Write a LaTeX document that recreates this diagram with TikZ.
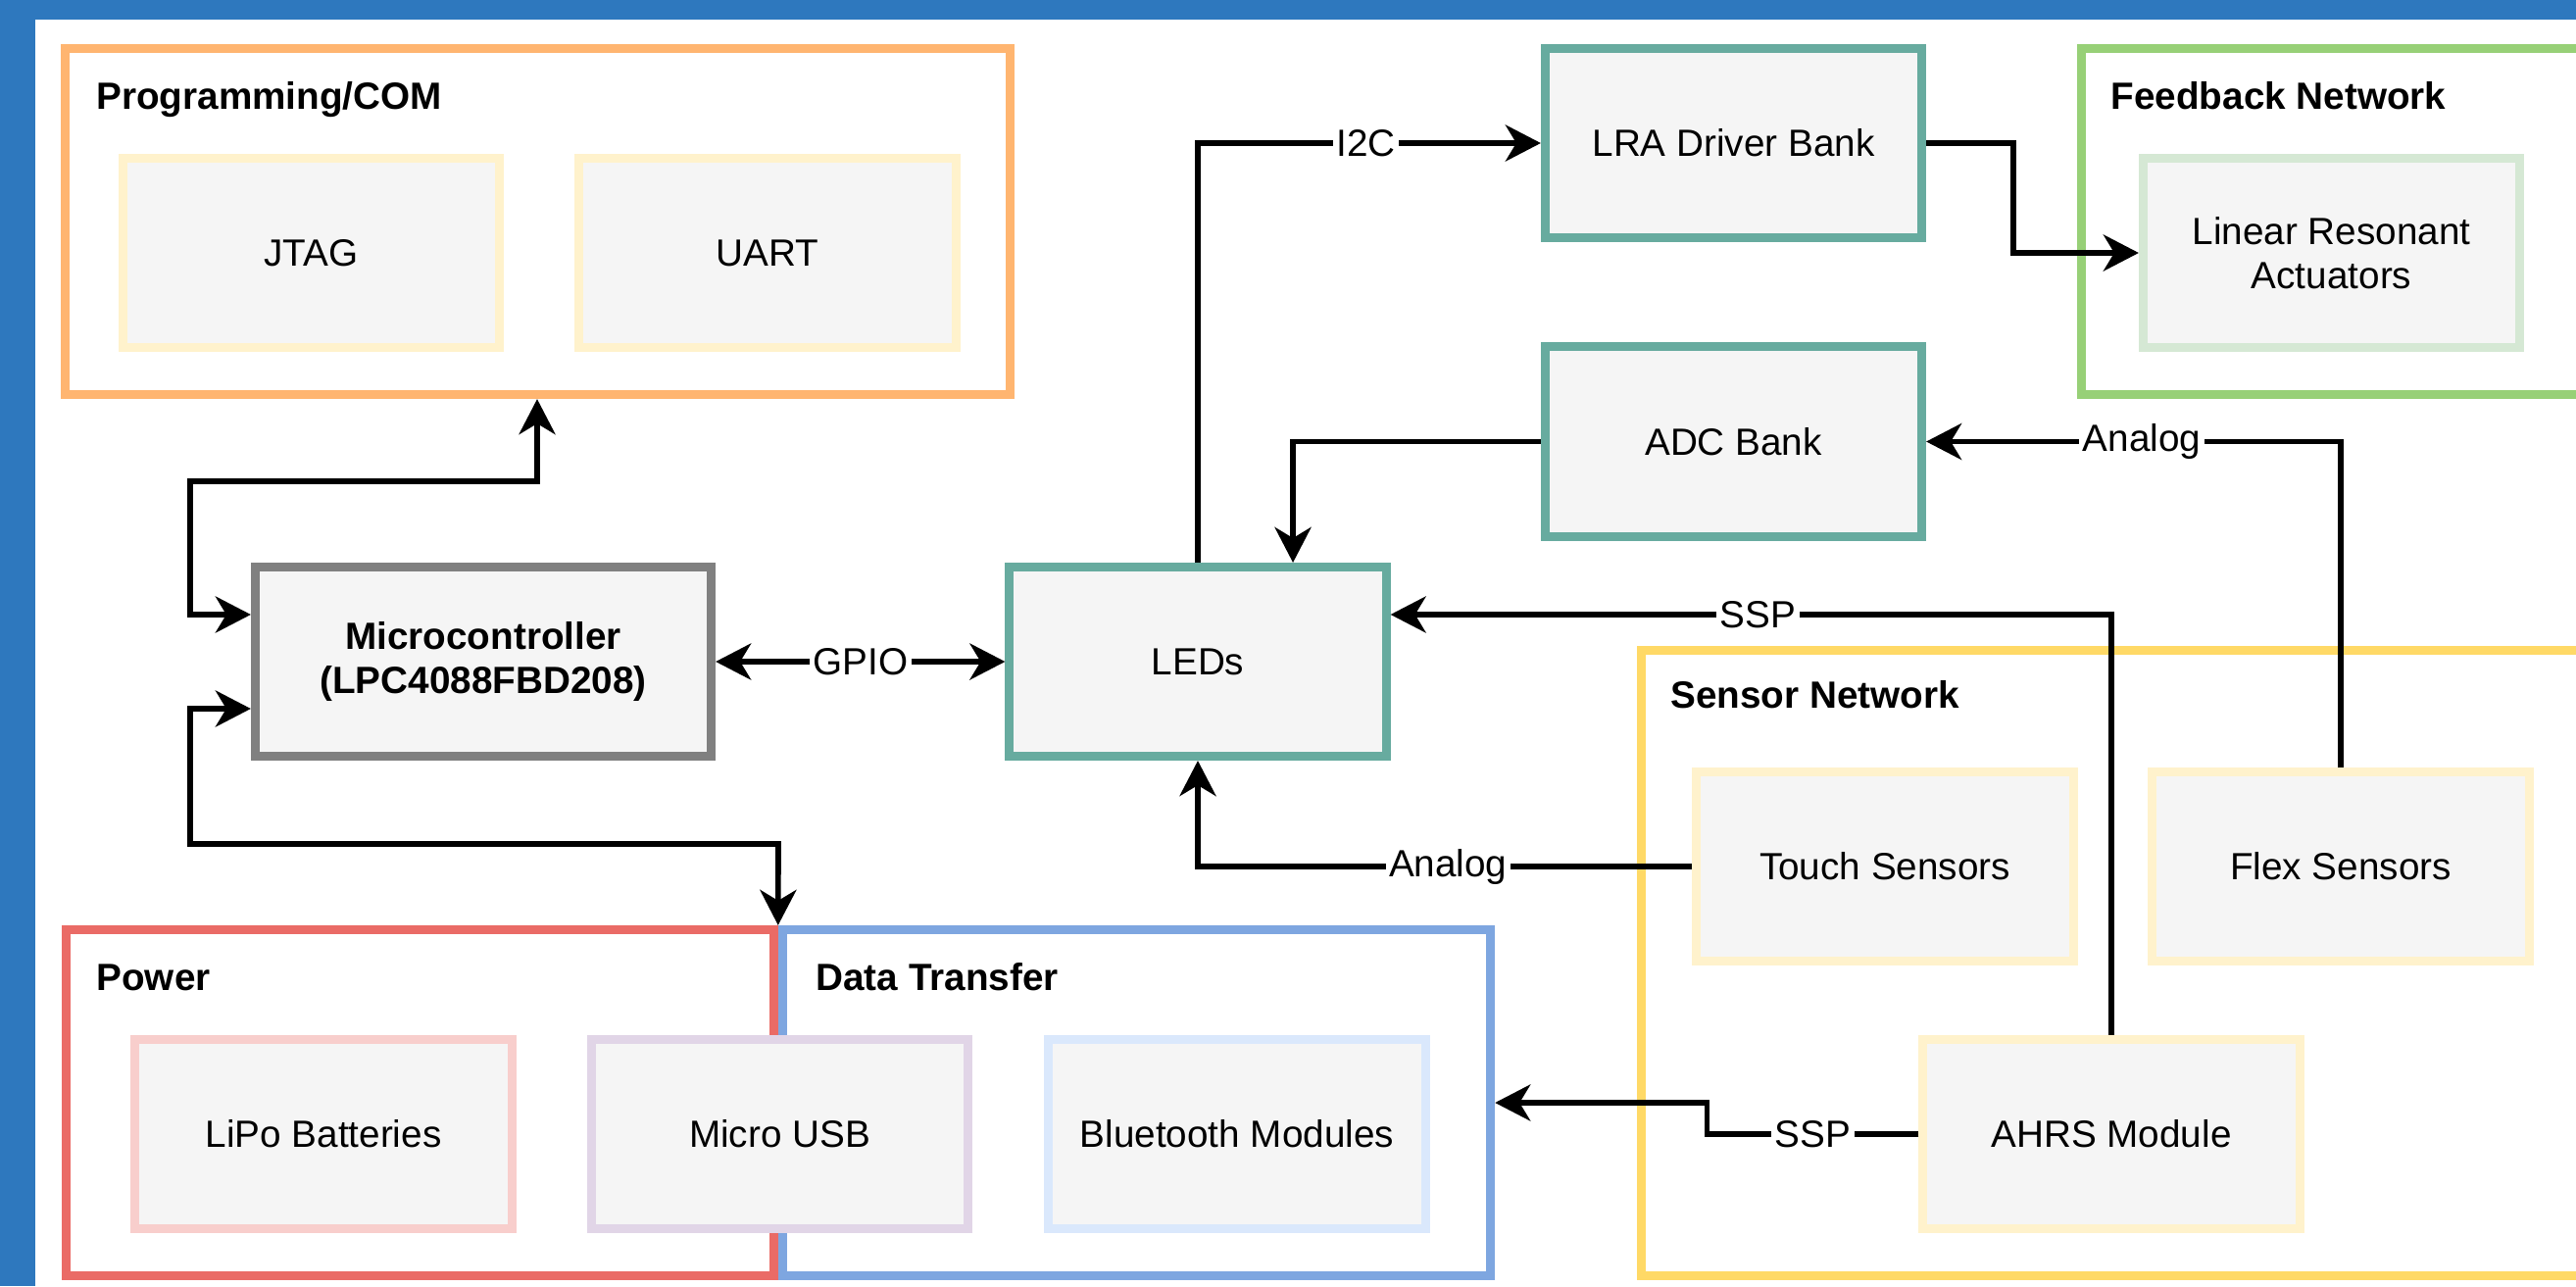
\documentclass[tikz,border=0pt]{standalone}
\usepackage{fontspec}
\setmainfont{Liberation Sans}
\usetikzlibrary{arrows.meta,calc}
\definecolor{frameblue}{HTML}{2E78BE}
\definecolor{boxfill}{HTML}{F5F5F5}
\definecolor{progline}{HTML}{FFB570}
\definecolor{feedline}{HTML}{97D077}
\definecolor{sensline}{HTML}{FFD966}
\definecolor{powline}{HTML}{EA6B66}
\definecolor{dataline}{HTML}{7EA6E0}
\definecolor{tealline}{HTML}{67AB9F}
\definecolor{paleyellow}{HTML}{FFF2CC}
\definecolor{palegreen}{HTML}{D5E8D4}
\definecolor{palered}{HTML}{F8CECC}
\definecolor{palepurple}{HTML}{E1D5E7}
\definecolor{paleblue}{HTML}{DAE8FC}

\begin{document}
\begin{tikzpicture}[x=0.01cm, y=-0.01cm,
  >={Stealth[length=3.6mm, width=3.7mm, inset=1.1mm]},
  group/.style={rectangle, draw=#1, line width=2.7pt, inner sep=0pt},
  grouptitle/.style={anchor=base west, inner sep=0pt, font=\fontsize{11pt}{13pt}\selectfont\bfseries},
  unit/.style={rectangle, draw=#1, line width=2.55pt, fill=boxfill, minimum width=3.84cm, minimum height=1.93cm, align=center, inner sep=2pt, font=\fontsize{11pt}{12.8pt}\selectfont},
  arr/.style={->, line width=1.6pt},
  dbl/.style={<->, line width=1.6pt},
  lab/.style={fill=white, inner sep=1pt, font=\fontsize{11pt}{13pt}\selectfont}
]
  \useasboundingbox (0,0) rectangle (2628,1312);
  \clip (0,0) rectangle (2628,1312);
  \fill[frameblue] (0,0) rectangle (2628,1312);
  \fill[white] (36,20) rectangle (2628,1312);

  \node[group=progline, minimum width=9.635cm, minimum height=3.525cm] (prog) at (548.5,226) {};
  \node[group=feedline, minimum width=5.315cm, minimum height=3.525cm] (feedback) at (2389.5,226) {};
  \node[group=sensline, minimum width=9.805cm, minimum height=6.375cm] (sensor) at (2165,982.5) {};
  \node[group=powline, minimum width=7.215cm, minimum height=3.525cm] (power) at (428.5,1125) {};
  \node[group=dataline, minimum width=7.215cm, minimum height=3.525cm] (data) at (1159.5,1125) {};

  \node[grouptitle] (progtitle) at ($(prog.north west)+(36,67)$) {Programming/COM};
  \node[grouptitle] (feedtitle) at ($(feedback.north west)+(34,67)$) {Feedback Network};
  \node[grouptitle] (senstitle) at ($(sensor.north west)+(34,64)$) {Sensor Network};
  \node[grouptitle] (powtitle) at ($(power.north west)+(35,67)$) {Power};
  \node[grouptitle] (datatitle) at ($(data.north west)+(38,67)$) {Data Transfer};

  \node[unit=paleyellow] (jtag) at (317.5,258) {JTAG};
  \node[unit=paleyellow] (uart) at (783,258) {UART};
  \node[unit=gray, minimum width=4.65cm, font=\fontsize{11pt}{12.8pt}\selectfont\bfseries] (mcu) at (493,675) {Microcontroller\\(LPC4088FBD208)};
  \node[unit=tealline] (leds) at (1222,675) {LEDs};
  \node[unit=tealline] (lra) at (1768.5,146) {LRA Driver Bank};
  \node[unit=tealline] (adc) at (1768.5,450.5) {ADC Bank};
  \node[unit=palegreen] (lraact) at (2378.5,258) {Linear Resonant\\Actuators};
  \node[unit=paleyellow] (touch) at (1923,884) {Touch Sensors};
  \node[unit=paleyellow] (flex) at (2388,884) {Flex Sensors};
  \node[unit=paleyellow] (ahrs) at (2154,1157) {AHRS Module};
  \node[unit=palered] (lipo) at (330,1157) {LiPo Batteries};
  \node[unit=palepurple] (usb) at (795.5,1157) {Micro USB};
  \node[unit=paleblue] (bt) at (1262,1157) {Bluetooth Modules};

  \coordinate (mcuhi) at (194,627);
  \coordinate (proglink) at (548,491);
  \coordinate (mculo) at (194,723);
  \coordinate (datalink) at (794,861);

  \draw[dbl] (mcu.west |- mcuhi) -- (mcuhi) |- (proglink) -- (proglink |- prog.south);
  \draw[dbl] (mcu.west |- mculo) -- (mculo) |- (datalink) -- (data.north west);
  \draw[dbl] (mcu) -- node[lab] {GPIO} (leds);
  \draw[arr] (leds.north) |- node[pos=0.745, lab] {I2C} (lra.west);
  \draw[arr] (lra.east) -- ++(89,0) |- (lraact.west);
  \draw[arr] (adc.west) -| ([xshift=0.97cm]leds.north);
  \draw[arr] (flex.north) |- node[pos=0.74, lab] {Analog} (adc.east);
  \draw[arr] (ahrs.north) |- node[pos=0.745, lab] {SSP} ([yshift=0.48cm]leds.east);
  \draw[arr] (touch.west) -| node[pos=0.247, lab] {Analog} (leds.south);
  \draw[arr] (ahrs.west) -- node[lab] {SSP} ++(-216,0) |- (data.east);
\end{tikzpicture}
\end{document}
